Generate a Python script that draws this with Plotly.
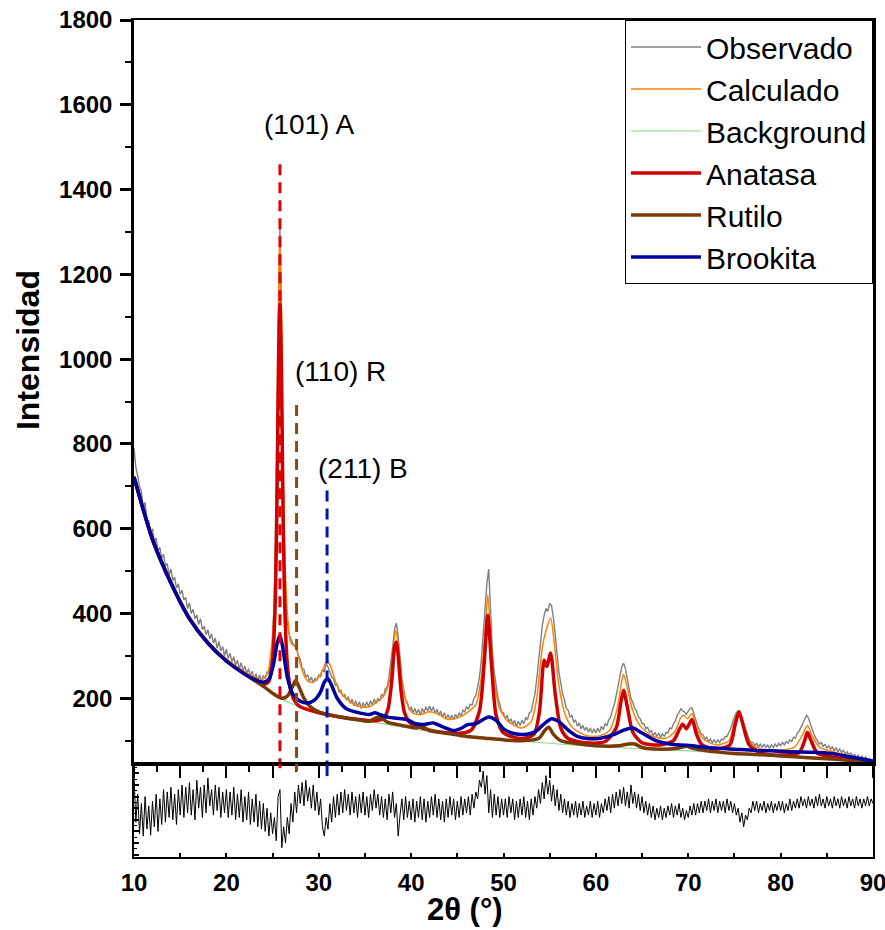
import plotly.graph_objects as go

# ---------------- data ----------------
two_theta_start = 10.0
two_theta_step = 0.2

observado = [
    790, 745, 725, 700, 688, 650, 662, 620, 618, 590,
    600, 570, 578, 548, 556, 530, 540, 512, 518, 490,
    505, 478, 486, 460, 470, 445, 455, 432, 438, 412,
    425, 400, 410, 388, 396, 374, 388, 362, 370, 350,
    362, 340, 352, 330, 342, 318, 334, 312, 322, 300,
    316, 294, 306, 286, 298, 278, 290, 270, 284, 264,
    276, 258, 270, 252, 264, 246, 258, 242, 255, 240,
    254, 246, 262, 258, 290, 330, 440, 700, 1060, 1318,
    960, 640, 450, 380, 350, 338, 330, 322, 318, 300,
    292, 270, 268, 250, 256, 240, 250, 236, 248, 242,
    256, 250, 268, 262, 282, 274, 262, 250, 246, 230,
    232, 214, 220, 204, 210, 196, 204, 188, 198, 182,
    194, 180, 192, 176, 190, 178, 192, 180, 194, 184,
    198, 188, 200, 194, 210, 204, 222, 226, 250, 282,
    320, 362, 378, 345, 290, 246, 220, 196, 190, 172,
    180, 166, 176, 164, 174, 160, 176, 166, 180, 170,
    182, 170, 180, 164, 174, 160, 170, 156, 166, 152,
    162, 150, 160, 150, 162, 154, 166, 158, 172, 168,
    180, 174, 186, 184, 200, 206, 226, 250, 290, 350,
    420, 470, 505, 400, 310, 262, 226, 200, 186, 168,
    166, 152, 160, 144, 152, 138, 148, 134, 146, 136,
    148, 140, 154, 150, 166, 168, 190, 210, 246, 290,
    340, 372, 396, 412, 405, 424, 418, 390, 350, 300,
    262, 236, 210, 196, 176, 172, 156, 160, 144, 148,
    134, 142, 128, 136, 124, 132, 120, 130, 118, 128,
    118, 130, 120, 134, 126, 140, 136, 150, 156, 172,
    186, 206, 228, 256, 274, 283, 270, 246, 222, 200,
    190, 176, 170, 156, 152, 140, 140, 128, 132, 120,
    124, 112, 120, 110, 118, 108, 116, 110, 120, 118,
    130, 128, 140, 146, 160, 166, 176, 170, 168, 162,
    170, 176, 178, 166, 150, 136, 126, 116, 114, 104,
    108, 98, 104, 96, 102, 94, 102, 96, 104, 102,
    110, 110, 120, 128, 144, 154, 166, 170, 166, 152,
    140, 124, 112, 104, 96, 96, 88, 94, 86, 92,
    84, 92, 84, 90, 82, 90, 84, 92, 86, 94,
    88, 96, 90, 98, 94, 102, 98, 108, 106, 118,
    122, 132, 140, 150, 160, 154, 140, 128, 116, 106,
    100, 92, 96, 86, 92, 82, 88, 80, 86, 76,
    84, 74, 80, 72, 78, 68, 74, 66, 72, 62,
    68, 60, 66, 58, 64, 56, 62, 54, 58, 52,
    56,
]

residuo = [
    70, -30, 30, -55, 10, -60, 25, -45, 5, -58,
    15, -40, 30, -50, 20, -35, 40, -30, 35, -20,
    45, -25, 30, -35, 40, -15, 50, -20, 45, -10,
    55, -15, 40, -25, 60, 0, 45, -20, 50, -10,
    65, 5, 40, -15, 50, -5, 45, -20, 35, -10,
    40, -20, 35, -15, 45, -25, 30, -20, 40, -30,
    25, -25, 35, -35, 20, -30, 30, -40, 15, -45,
    10, -50, 0, -60, -10, -55, -20, -70, 25, 40,
    -85, -40, -75, -20, -55, 10, -30, 35, -10, 50,
    10, 55, 5, 60, 15, 45, 0, 50, -5, 35,
    -15, 20, -40, -60, -20, -45, 10, -30, 25, -20,
    30, -15, 35, -10, 40, -5, 30, -15, 35, -10,
    25, -20, 30, -10, 35, -15, 25, -20, 30, -5,
    40, 0, 30, -15, 25, -20, 20, -25, 30, -10,
    35, -20, 10, -60, -15, 20, -25, 25, -20, 15,
    -25, 20, -30, 15, -20, 25, -25, 20, -30, 15,
    -20, 25, -15, 30, -20, 20, -25, 15, -30, 20,
    -20, 25, -15, 20, -25, 15, -20, 25, -15, 20,
    -10, 25, -15, 30, 0, 35, 20, 60, 45, 80,
    30, 70, -10, 40, -20, 30, -15, 25, -20, 20,
    -15, 20, -20, 25, -10, 20, -25, 15, -20, 20,
    -15, 25, -20, 15, -25, 20, -15, 25, 0, 40,
    10, 55, 20, 70, 30, 60, 15, 50, 5, 40,
    -5, 30, -10, 20, -15, 15, -20, 10, -15, 15,
    -20, 10, -15, 15, -20, 5, -15, 15, -20, 10,
    -15, 15, -20, 10, -10, 20, -5, 25, -10, 30,
    0, 35, 5, 40, 10, 45, 5, 35, 0, 50,
    10, 35, 0, 30, -5, 25, -10, 15, -15, 10,
    -20, 5, -25, 0, -20, 5, -25, 0, -20, 5,
    -15, 10, -20, 5, -15, 10, -20, 0, -25, -5,
    -20, 5, -15, 10, -15, 10, -10, 15, -10, 15,
    -5, 20, -10, 15, -5, 20, -10, 15, -5, 15,
    -10, 20, -5, 15, -10, 10, -15, 0, -30, -10,
    -40, -15, -25, 0, -10, 15, -5, 15, -10, 10,
    -5, 15, -10, 10, -5, 15, -10, 10, -5, 15,
    -5, 15, -10, 10, -5, 20, -5, 15, 0, 20,
    0, 25, 5, 20, 0, 25, 5, 20, 0, 25,
    5, 30, 5, 20, 0, 25, 5, 20, 0, 25,
    5, 20, 0, 25, 5, 20, 0, 25, 5, 20,
    0, 25, 5, 20, 0, 20, 5, 25, 5, 20,
    10,
]

calculado_x = [10, 12, 14, 16, 18, 20, 22, 23, 24, 24.5, 25.0, 25.3, 25.5, 25.65, 25.8,
               25.95, 26.1, 26.3, 26.6, 27.0, 27.5, 28.0, 28.5, 29, 29.5, 30.0, 30.5, 30.9,
               31.3, 31.8, 32.5, 33.5, 34.5, 35.5, 36.2, 37.0, 37.6, 38.0, 38.3, 38.6, 39.0,
               39.5, 40.2, 41, 42, 43, 44, 45.2, 46, 47, 47.6, 48.0, 48.3, 48.6, 49.0, 49.6,
               50.5, 52, 53, 53.6, 54.2, 54.6, 55.1, 55.5, 56.0, 56.7, 57.5, 59, 60.5, 61.5,
               62.3, 62.8, 63.0, 63.4, 64, 64.8, 66, 67.5, 68.5, 69.2, 69.5, 69.9, 70.4, 70.9,
               71.6, 73, 74.4, 75.0, 75.5, 76.0, 76.7, 78, 80, 81.5, 82.4, 82.9, 83.4, 84.2,
               86, 88, 90]
calculado_y = [725, 580, 478, 393, 335, 293, 262, 250, 246, 262, 350, 520, 840, 1170, 1290,
               1150, 840, 560, 400, 330, 320, 280, 250, 238, 240, 250, 270, 290,
               275, 240, 210, 190, 180, 180, 190, 205, 235, 300, 360, 330, 240,
               190, 165, 162, 168, 162, 150, 155, 165, 185, 250, 360, 443, 360, 240, 175,
               145, 130, 145, 200, 320, 360, 389, 330, 230, 160, 130, 112, 112, 125,
               175, 240, 257, 225, 170, 135, 112, 105, 120, 155, 160, 152, 164, 130,
               105, 90, 100, 145, 170, 140, 95, 80, 78, 85, 115, 136, 112, 85,
               72, 62, 52]

background_x = [10, 11, 12, 13, 14, 15, 16, 17, 18, 19, 20, 21, 22, 23, 24, 25, 26, 27, 28,
                29, 30, 32, 34, 36, 38, 40, 42, 45, 50, 55, 60, 65, 70, 75, 80, 85, 90]
background_y = [722, 640, 575, 526, 472, 428, 388, 356, 330, 307, 288, 272, 257, 243, 228,
                212, 198, 188, 178, 171, 165, 156, 150, 143, 136, 129, 121, 113, 103, 94,
                86, 81, 76, 70, 64, 57, 48]

anatasa_x = [10, 12, 14, 16, 18, 20, 22, 23, 24, 24.6, 25.0, 25.3, 25.5, 25.65, 25.8, 25.95,
             26.1, 26.3, 26.6, 27.0, 27.5, 28, 29, 30, 32, 34, 36, 37.0, 37.5, 37.9, 38.2,
             38.4, 38.6, 38.9, 39.3, 40, 42, 45, 46.5, 47.4, 47.9, 48.3, 48.7, 49.2, 50, 52,
             53.3, 53.9, 54.4, 54.7, 55.1, 55.6, 56.2, 57, 59, 61, 62.2, 62.7, 63.0, 63.4,
             64, 65, 67, 68.4, 69.0, 69.4, 69.8, 70.4, 70.9, 71.5, 73, 74.5, 75.1, 75.5, 75.9,
             76.6, 78, 80, 82, 82.6, 82.9, 83.3, 84, 86, 88, 90]
anatasa_y = [722, 575, 472, 388, 330, 288, 257, 244, 232, 240, 290, 430, 700, 1000, 1130, 1000,
             700, 430, 280, 215, 190, 180, 172, 166, 157, 151, 147, 152, 175, 240, 320,
             333, 300, 220, 165, 140, 125, 117, 125, 170, 280, 396, 280, 160, 118, 105,
             115, 170, 290, 275, 307, 210, 130, 105, 95, 98, 130, 190, 219, 180,
             120, 95, 90, 100, 125, 139, 128, 150, 115, 90, 80, 90, 140, 168, 140,
             90, 70, 66, 72, 100, 120, 100, 70, 60, 55, 48]

rutilo_x = [10, 12, 14, 16, 18, 20, 22, 24, 25, 26, 26.6, 27.1, 27.5, 27.9, 28.4, 29, 30, 31,
            32, 34, 35.5, 36.3, 36.8, 37.5, 39, 40.5, 41.2, 42, 44, 46, 48, 50, 52, 53.8, 54.5,
            54.9, 55.4, 56.2, 57, 60, 62.5, 63.5, 64.2, 65, 67, 69, 69.8, 70.5, 72, 75, 78,
            80, 83, 86, 88, 90]
rutilo_y = [722, 575, 472, 388, 330, 288, 257, 228, 212, 200, 205, 225, 242, 225, 200, 182,
            168, 162, 157, 150, 146, 155, 153, 143, 136, 130, 133, 124, 117, 110, 106, 102,
            100, 105, 125, 132, 115, 100, 96, 88, 88, 92, 92, 84, 80, 83, 87, 82, 76, 70,
            67, 64, 60, 56, 52, 48]

brookita_x = [10, 12, 14, 16, 18, 20, 22, 23, 24, 24.6, 25.1, 25.5, 25.8, 26.1, 26.6, 27.2,
              28, 28.8, 29.5, 30.2, 30.6, 31.0, 31.4, 32, 33, 34.5, 35.5, 36.1, 36.8, 37.6,
              38.5, 39.5, 40.5, 41.4, 42.4, 43.3, 44.6, 45.5, 46.1, 47, 47.8, 48.4, 49.2, 50,
              51.1, 52.5, 53.5, 54.3, 55.2, 56, 57, 58, 59.1, 60.5, 62, 63, 64, 65, 66.5, 68,
              69.9, 72, 75, 77.2, 79, 81, 83.6, 85.5, 87, 88.5, 90]
brookita_y = [722, 575, 472, 388, 330, 288, 257, 245, 238, 245, 280, 330, 349, 320, 250, 210,
              193, 189, 195, 215, 238, 246, 230, 200, 175, 165, 162, 166, 160, 155,
              153, 150, 140, 138, 142, 134, 124, 130, 138, 140, 150, 156, 148, 128,
              117, 115, 122, 138, 152, 145, 125, 110, 105, 106, 115, 125, 130, 118, 100, 92,
              89, 84, 80, 77, 76, 74, 73, 70, 64, 58, 52]

# Reflection markers (position, top of dashed line)
reflexiones_pos = [25.8, 27.6, 30.9]
reflexiones_top = [1460, 892, 690]
reflexiones_lbl = ["(101) A", "(110) R", "(211) B"]
reflexiones_lbl_pos = [(29.0, 1553), (32.3, 970), (34.8, 743)]
reflexiones_tick = [86, 80, 69]
reflexiones_col = ["#E00000", "#8B4A14", "#0018B0"]

# ---------------- figure ----------------
two_theta = [round(two_theta_start + two_theta_step * i, 2) for i in range(len(observado))]

FONT = "Arial, 'Liberation Sans', sans-serif"
fig = go.Figure()

series = [
    ("Observado", two_theta, observado, "#808080", 1.4, "linear"),
    ("Calculado", calculado_x, calculado_y, "#FF8000", 1.5, "spline"),
    ("Background", background_x, background_y, "#8FD88F", 1.2, "spline"),
    ("Anatasa", anatasa_x, anatasa_y, "#D00000", 3.5, "spline"),
    ("Rutilo", rutilo_x, rutilo_y, "#7A3A06", 3.5, "spline"),
    ("Brookita", brookita_x, brookita_y, "#0000A0", 3.5, "spline"),
]
for i, (name, xs, ys, col, w, shape) in enumerate(series):
    line = dict(color=col, width=w, shape=shape)
    if shape == "spline":
        line["smoothing"] = 0.7
    fig.add_trace(go.Scatter(x=xs, y=ys, mode="lines", name=name, line=line,
                             legendgroup=f"g{i}", xaxis="x", yaxis="y"))

for pos, top, tick, col in zip(reflexiones_pos, reflexiones_top, reflexiones_tick, reflexiones_col):
    fig.add_trace(go.Scatter(x=[pos, pos], y=[top, 45], mode="lines", showlegend=False,
                             line=dict(color=col, width=3, dash="11px,7px"),
                             xaxis="x", yaxis="y"))
    fig.add_trace(go.Scatter(x=[pos, pos], y=[95, tick], mode="lines", showlegend=False,
                             line=dict(color=col, width=3), xaxis="x2", yaxis="y2"))

fig.add_trace(go.Scatter(x=two_theta, y=residuo, mode="lines", showlegend=False,
                         line=dict(color="black", width=1), xaxis="x2", yaxis="y2"))

for lbl, (lx, ly) in zip(reflexiones_lbl, reflexiones_lbl_pos):
    fig.add_annotation(x=lx, y=ly, xref="x", yref="y", text=lbl, showarrow=False,
                       xanchor="center", yanchor="middle",
                       font=dict(family=FONT, size=28, color="black"))

fig.add_annotation(x=-0.1434, y=0.6057, xref="paper", yref="paper", text="<b>Intensidad</b>",
                   textangle=-90, showarrow=False, xanchor="center", yanchor="middle",
                   font=dict(family=FONT, size=32, color="black"))
fig.add_annotation(x=0.448, y=-0.0625, xref="paper", yref="paper", text="<b>2θ (°)</b>",
                   showarrow=False, xanchor="center", yanchor="middle",
                   font=dict(family=FONT, size=31, color="black"))

split = 0.1111
fig.update_layout(
    width=885, height=930,
    margin=dict(l=134, r=12, t=20, b=73, autoexpand=False),
    paper_bgcolor="white", plot_bgcolor="white",
    showlegend=True,
    legend=dict(x=1, y=1, xanchor="right", yanchor="top", bgcolor="white",
                bordercolor="black", borderwidth=1, tracegroupgap=0, itemwidth=70,
                font=dict(family=FONT, size=30, color="black")),
    xaxis=dict(domain=[0, 1], anchor="y", range=[10, 90], showticklabels=False,
               automargin=False,
               showline=True, linecolor="black", linewidth=2, mirror=True, showgrid=False,
               zeroline=False, ticks="outside", dtick=5, tick0=10, ticklen=12, tickwidth=2,
               tickcolor="black",
               minor=dict(dtick=2.5, tick0=10, ticks="outside", ticklen=6, tickwidth=2,
                          tickcolor="black")),
    yaxis=dict(domain=[split, 1], anchor="x", range=[45, 1800], tick0=0, dtick=200,
               automargin=False,
               showline=True, linecolor="black", linewidth=2.5, mirror=True, showgrid=False,
               zeroline=False, ticks="outside", ticklen=11, tickwidth=2.5, tickcolor="black",
               tickfont=dict(family=FONT, size=24, color="black", weight="bold"),
               ticklabelstandoff=3, ticklabeloverflow="allow",
               minor=dict(dtick=100, ticks="outside", ticklen=6, tickwidth=2,
                          tickcolor="black")),
    xaxis2=dict(domain=[0, 1], anchor="y2", range=[10, 90], tick0=10, dtick=10,
                automargin=False,
                showline=True, linecolor="black", linewidth=1.5, mirror=True, showgrid=False,
                zeroline=False, ticks="inside", ticklen=4, tickwidth=1.5, tickcolor="black",
                tickfont=dict(family=FONT, size=24, color="black", weight="bold"),
                ticklabelstandoff=3, ticklabeloverflow="allow",
                minor=dict(dtick=5, ticks="inside", ticklen=4, tickwidth=1.5,
                           tickcolor="black")),
    yaxis2=dict(domain=[0, split], anchor="x2", range=[-105, 95], showticklabels=False,
                automargin=False,
                showline=True, linecolor="black", linewidth=2, mirror=True, showgrid=False,
                zeroline=False, ticks="inside", dtick=25, ticklen=5, tickwidth=1.5,
                tickcolor="black",
                minor=dict(dtick=12.5, ticks="inside", ticklen=3, tickwidth=1,
                           tickcolor="black")),
)

fig.write_html("out.html")
